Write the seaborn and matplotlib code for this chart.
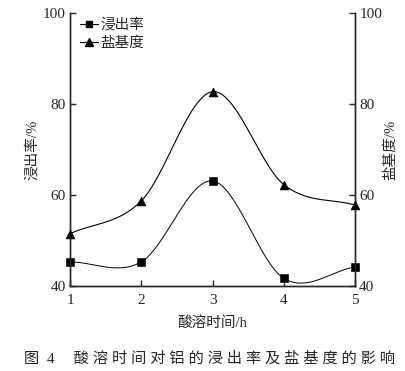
import matplotlib
matplotlib.use("Agg")
import matplotlib.pyplot as plt
import numpy as np
import pandas as pd
import seaborn as sns
from matplotlib.lines import Line2D

# data
hours = [1, 2, 3, 4, 5]
leach_rate = [45.3, 45.3, 63.1, 41.7, 44.2]     # 浸出率 (left axis)
basicity = [51.5, 58.7, 82.7, 62.3, 57.8]       # 盐基度 (right axis)
y_ticks = [40, 60, 80, 100]

sns.set_style("ticks")
plt.rcParams['font.family'] = ['Liberation Serif', 'Noto Sans CJK SC']
plt.rcParams['xtick.direction'] = 'in'
plt.rcParams['ytick.direction'] = 'in'

cjk = ['Liberation Serif', 'Noto Sans CJK SC']


def smooth_curve(x, y, n=200):
    # Catmull-Rom style cubic through the points, only for drawing the curve
    x = np.asarray(x, float)
    y = np.asarray(y, float)
    k = len(x)
    m = np.empty(k)
    m[0] = (y[1] - y[0]) / (x[1] - x[0])
    m[-1] = (y[-1] - y[-2]) / (x[-1] - x[-2])
    for i in range(1, k - 1):
        m[i] = (y[i + 1] - y[i - 1]) / (x[i + 1] - x[i - 1])
    xs = np.linspace(x[0], x[-1], n)
    ys = np.empty_like(xs)
    for j, xv in enumerate(xs):
        i = min(np.searchsorted(x, xv, side='right') - 1, k - 2)
        h = x[i + 1] - x[i]
        t = (xv - x[i]) / h
        h00 = 2 * t**3 - 3 * t**2 + 1
        h10 = t**3 - 2 * t**2 + t
        h01 = -2 * t**3 + 3 * t**2
        h11 = t**3 - t**2
        ys[j] = h00 * y[i] + h10 * h * m[i] + h01 * y[i + 1] + h11 * h * m[i + 1]
    return pd.DataFrame({'x': xs, 'y': ys})


fig = plt.figure(figsize=(4.06, 3.71), dpi=100)
ax = fig.add_axes([0.1724, 0.229, 0.702, 0.736])
ax2 = ax.twinx()

df1 = pd.DataFrame({'x': hours, 'y': leach_rate})
df2 = pd.DataFrame({'x': hours, 'y': basicity})

sns.lineplot(data=smooth_curve(hours, leach_rate), x='x', y='y', ax=ax,
             color='black', linewidth=0.7, estimator=None, sort=False)
sns.scatterplot(data=df1, x='x', y='y', ax=ax, marker='s', s=28,
                color='black', edgecolor='black', clip_on=False, zorder=5)

sns.lineplot(data=smooth_curve(hours, basicity), x='x', y='y', ax=ax2,
             color='black', linewidth=0.8, estimator=None, sort=False)
sns.scatterplot(data=df2, x='x', y='y', ax=ax2, marker='^', s=40,
                color='black', edgecolor='black', clip_on=False, zorder=5)

for a in (ax, ax2):
    a.set_xlim(1, 5)
    a.set_ylim(40, 100)
    a.set_yticks(y_ticks)
    a.set_xticks(hours)
    for s in a.spines.values():
        s.set_linewidth(1.0)
    a.tick_params(labelsize=11, length=4, width=1, pad=3)
    a.tick_params(axis='x', pad=6)

ax.spines['top'].set_visible(False)
ax2.spines['top'].set_visible(False)
ax2.spines['right'].set_visible(True)

ax.set_xlabel('酸溶时间/h', family=cjk, fontsize=10.5, labelpad=6)
ax.set_ylabel('浸出率/%', family=cjk, fontsize=10.5, labelpad=3)
ax2.set_ylabel('盐基度/%', family=cjk, fontsize=10.5, rotation=90, labelpad=1)

handles = [
    Line2D([], [], color='black', marker='s', markersize=5, linewidth=0.8),
    Line2D([], [], color='black', marker='^', markersize=6, linewidth=0.8),
]
leg = ax.legend(handles, ['浸出率', '盐基度'], loc='upper left',
                bbox_to_anchor=(0.0, 1.02), frameon=False, handlelength=1.2,
                handletextpad=0.2, labelspacing=0.3, borderaxespad=0.3,
                prop={'family': cjk, 'size': 10.5})

fig.text(0.517, 0.035, '图  4　 酸 溶 时 间 对 铝 的 浸 出 率 及 盐 基 度 的 影 响',
         family=cjk, fontsize=11, ha='center', va='center')

fig.savefig('out.png', dpi=100)
